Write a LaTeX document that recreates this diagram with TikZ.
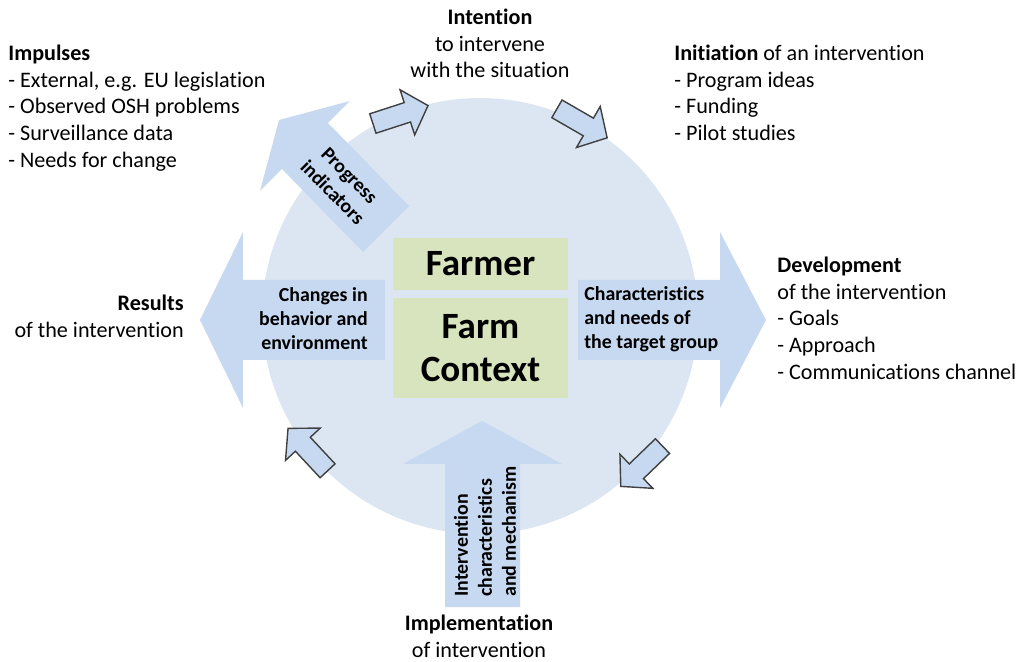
\documentclass[tikz,border=0pt]{standalone}
\usepackage{fontspec}
\setmainfont{Carlito}[Ligatures=NoCommon]
\usetikzlibrary{
    arrows.meta,
    positioning,
    shapes.arrows
}

\definecolor{ringblue}{RGB}{220,230,242}
\definecolor{arrowblue}{RGB}{198,217,241}
\definecolor{boxgreen}{RGB}{215,228,189}
\definecolor{edgegray}{RGB}{64,64,64}

\begin{document}
\begin{tikzpicture}[
  x=0.02cm, y=-0.02cm,
  phase/.style   = {inner sep=0pt, font=\fontsize{12.6}{15.1}\selectfont},
  inlabel/.style = {inner sep=0pt, font=\fontsize{11.3}{13.7}\selectfont\bfseries},
  core/.style    = {rectangle, fill=boxgreen, minimum width=3.5cm, align=center,
                    inner sep=0pt, font=\fontsize{21.1}{24.5}\selectfont\bfseries},
  bigarrow/.style = {fill=arrowblue},
  cyclearrow/.style = {single arrow, draw=edgegray, fill=arrowblue, line width=0.8pt,
                       minimum height=1.16cm, inner xsep=0pt, inner ysep=0.19cm,
                       single arrow head extend=0.27cm, single arrow tip angle=95}
]
\useasboundingbox (0,0) rectangle (1029,662);

% Background circle
\fill[ringblue] (480,316) circle [radius=4.36cm];

% Big arrows
\fill[bigarrow] (385,280) -- (243,280) -- (243,232) -- (200,320) -- (243,408) -- (243,360) -- (385,360) -- cycle;
\fill[bigarrow] (578,280) -- (720,280) -- (720,232) -- (766,320) -- (720,408) -- (720,360) -- (578,360) -- cycle;
\fill[bigarrow] (445,607) -- (445,464) -- (403,464) -- (482,421) -- (562,464) -- (520,464) -- (520,607) -- cycle;
\fill[bigarrow] (409,206) -- (328,123) -- (350,101) -- (279,120) -- (260,191) -- (282,169) -- (363,252) -- cycle;

% Nodes
\node[core, minimum height=1.04cm] (farmer) at (480.5,264) {Farmer};
\node[core, minimum height=2cm] (context) at (480.5,348) {Farm\\Context};

\node[inlabel, anchor=east, align=right] (changes) at (368,319) {Changes in\\behavior and\\environment};
\node[inlabel, anchor=west, align=left] (target) at (584,319) {Characteristics\\and needs of\\the target group};
\node[inlabel, anchor=west, align=left, rotate=90] (mechanism) at (485,597) {Intervention\\characteristics\\and mechanism};
\node[inlabel, align=center, rotate=-45] (progress) at (341,184) {Progress\\indicators};

\node[phase, anchor=north west, align=left] (impulses) at (8,45)
  {\textbf{Impulses}\\- External, e.g. EU legislation\\- Observed OSH problems\\- Surveillance data\\- Needs for change};
\node[phase, anchor=north, align=center] (intention) at (490,9)
  {\textbf{Intention}\\to intervene\\with the situation};
\node[phase, anchor=north west, align=left] (initiation) at (674,45)
  {\textbf{Initiation} of an intervention\\- Program ideas\\- Funding\\- Pilot studies};
\node[phase, anchor=north west, align=left] (development) at (777,257)
  {\textbf{Development}\\of the intervention\\- Goals\\- Approach\\- Communications channel};
\node[phase, anchor=north, align=center] (implementation) at (479,615)
  {\textbf{Implementation}\\of intervention};
\node[phase, anchor=north east, align=right] (results) at (184,295)
  {\textbf{Results}\\of the intervention};

% Cycle arrows
\node[cyclearrow, rotate=18] (tointention) at (396,116) {};
\node[cyclearrow, rotate=-30] (toinitiation) at (578,121) {};
\node[cyclearrow, rotate=-136] (toimplementation) at (645,463) {};
\node[cyclearrow, rotate=133] (toresults) at (311,453) {};

\end{tikzpicture}
\end{document}
